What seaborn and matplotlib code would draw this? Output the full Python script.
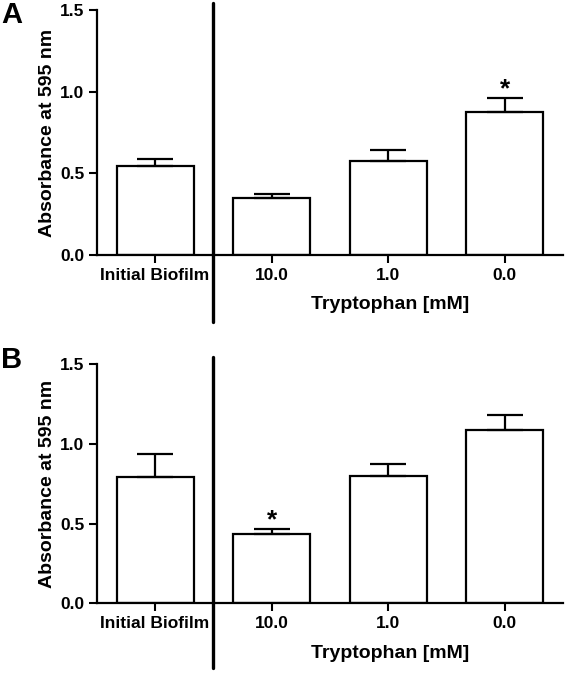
import numpy as np
import matplotlib
matplotlib.use("Agg")
import matplotlib.pyplot as plt
import seaborn as sns

# 数据
groups = ["Initial Biofilm", "10.0", "1.0", "0.0"]
mean_a = [0.548, 0.349, 0.573, 0.879]
sem_a = [0.041, 0.027, 0.069, 0.083]
mean_b = [0.795, 0.433, 0.801, 1.088]
sem_b = [0.140, 0.031, 0.073, 0.094]
star_a = "0.0"
star_b = "10.0"
y_ticks = [0.0, 0.5, 1.0, 1.5]

sns.set_style("ticks")
plt.rcParams['font.family'] = ['Liberation Sans', 'DejaVu Sans']
# 文字和刻度全部用纯黑
for key in ['text.color', 'axes.labelcolor', 'xtick.color', 'ytick.color', 'axes.edgecolor']:
    plt.rcParams[key] = 'black'

fig = plt.figure(figsize=(5.66, 6.73), dpi=100)
ax_a = fig.add_axes([0.171, 0.621, 0.824, 0.364])
ax_b = fig.add_axes([0.171, 0.1036, 0.824, 0.355])


def draw_panel(ax, means, sems, star_group, letter, div_lim, letter_y):
    sns.barplot(x=groups, y=means, order=groups, color="white", saturation=1,
                edgecolor="black", linewidth=1.6, width=0.66, ax=ax)
    xs = np.arange(len(groups))
    ax.errorbar(xs, means, yerr=[np.zeros(len(means)), sems], fmt="none",
                ecolor="black", elinewidth=1.6, capsize=13, capthick=1.6, zorder=1)
    # 星号：显著性标记
    i = groups.index(star_group)
    ax.text(i, means[i] + sems[i] + 0.055, "*", ha="center", va="center",
            fontsize=19, fontweight="bold")
    # 分隔线
    ax.axvline(0.5, ymin=div_lim[0], ymax=div_lim[1], color="black", lw=2.4, clip_on=False)
    ax.set_xlim(-0.5, 3.5)
    ax.set_ylim(0, 1.5)
    ax.set_yticks(y_ticks)
    ax.set_yticklabels([f"{t:.1f}" for t in y_ticks])
    ax.set_ylabel("Absorbance at 595 nm", fontsize=14, fontweight="bold", labelpad=3)
    ax.set_xlabel("Tryptophan [mM]", fontsize=14, fontweight="bold", labelpad=10)
    ax.xaxis.label.set_x(0.63)
    ax.tick_params(axis="both", labelsize=12.5, width=1.5, length=6, color="black",
                   labelcolor="black", pad=3)
    for lab in ax.get_xticklabels() + ax.get_yticklabels():
        lab.set_fontweight("bold")
    sns.despine(ax=ax)
    for s in ["left", "bottom"]:
        ax.spines[s].set_linewidth(1.6)
        ax.spines[s].set_color("black")
    ax.text(-0.205, letter_y, letter, transform=ax.transAxes, fontsize=21,
            fontweight="bold", ha="left", va="center")


draw_panel(ax_a, mean_a, sem_a, star_a, "A", (-0.273, 1.029), 0.98)
draw_panel(ax_b, mean_b, sem_b, star_b, "B", (-0.271, 1.032), 1.02)

plt.savefig("out.png", dpi=100)
plt.close()
